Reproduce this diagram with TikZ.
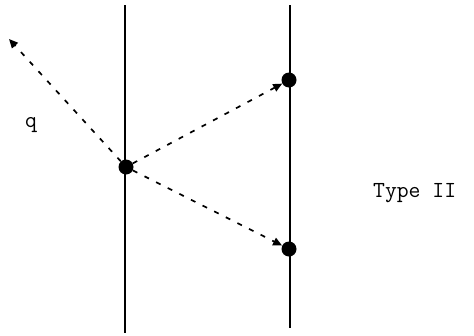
\documentclass[tikz,border=0pt]{standalone}
\usepackage{fontspec}
\usetikzlibrary{arrows.meta}

\begin{document}
\begin{tikzpicture}[x=1pt, y=-1pt, >={Triangle[length=9pt, width=8pt]},
  worldline/.style={line width=1.7pt},
  vertex/.style={circle, fill=black, inner sep=0pt, minimum size=15pt},
  prop/.style={->, line width=1.7pt, dash pattern=on 5pt off 8pt},
  lbl/.style={font=\ttfamily\fontsize{23}{27}\selectfont}]
  \useasboundingbox (0,0) rectangle (474,335);

  % the two vertical lines
  \coordinate (la) at (125,5);
  \coordinate (lb) at (125,333);
  \coordinate (ra) at (290,5);
  \coordinate (rb) at (290,328);
  \draw[worldline] (la) -- (lb);
  \draw[worldline] (ra) -- (rb);

  % vertices
  \node[vertex] (mid) at (126,167) {};
  \node[vertex] (up) at (289,80) {};
  \node[vertex] (down) at (289,249) {};
  \coordinate (out) at (9,39);

  % dashed arrows
  \draw[prop] (mid) -- (out);
  \draw[prop] (mid) -- (up);
  \draw[prop] (mid) -- (down);

  % labels
  \node[lbl, anchor=base] (qlbl) at (31,127) {q};
  \node[lbl, anchor=base west, inner sep=0pt] (type) at (373,197) {Type II};
\end{tikzpicture}
\end{document}
